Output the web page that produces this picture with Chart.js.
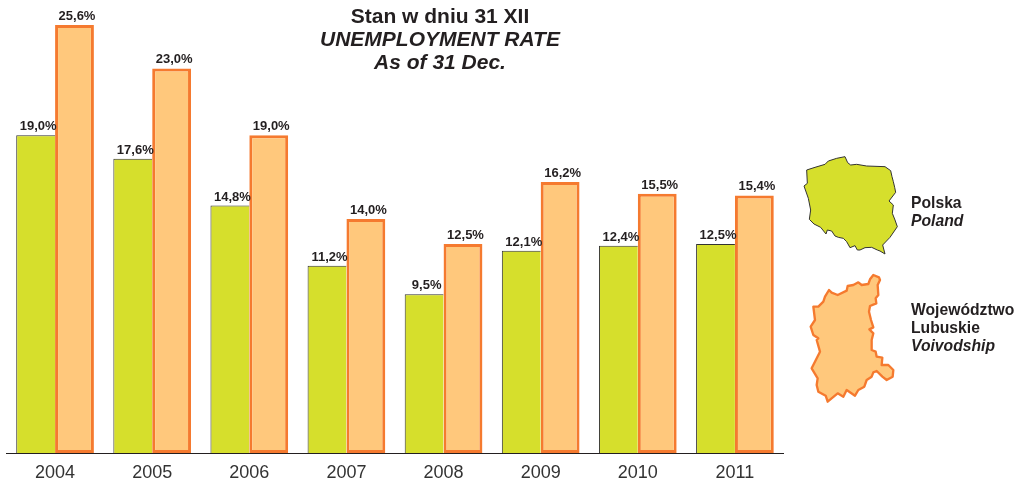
<!DOCTYPE html>
<html>
<head>
<meta charset="utf-8">
<script src="https://cdn.jsdelivr.net/npm/chart.js@4"></script>
<style>
    html, body { margin: 0; padding: 0; background: #fff; overflow: hidden; }
    body { width: 1018px; height: 480px; position: relative; font-family: "Liberation Sans", Arial, sans-serif; color: #231f20; }
    #chart-wrap { position: absolute; left: 0; top: 0; width: 1018px; height: 480px; }
    #title { position: absolute; left: 240px; top: 4px; width: 400px; text-align: center; font-weight: bold; font-size: 21px; line-height: 23px; }
    .legend-text { position: absolute; left: 911px; font-weight: bold; font-size: 15.7px; line-height: 18px; white-space: nowrap; }
    .map { position: absolute; }
    i { font-style: italic; }
</style>
</head>
<body>
<div id="chart-wrap"><canvas id="rate-chart" width="1018" height="480"></canvas></div>
<div id="title">Stan w dniu 31 XII<br><i>UNEMPLOYMENT RATE</i><br><i>As of 31 Dec.</i></div>

<svg class="map" style="left:800px;top:150px" width="100" height="105" viewBox="0 0 300 315">
    <path fill="#d6df2c" stroke="#333" stroke-width="3" stroke-linejoin="round"
        d="M20 60 L45 52 L75 43 L85 33 L110 25 L135 20 L143 38 L152 45 L170 43 L200 48 L255 50 L272 62 L276 80 L280 95 L284 112 L287 127 L267 153 L280 165 L277 190 L285 210 L292 230 L270 262 L248 285 L255 312 L240 303 L232 300 L215 292 L195 293 L180 300 L172 300 L165 287 L150 293 L140 275 L130 265 L115 262 L105 258 L95 243 L82 240 L78 252 L62 232 L42 222 L28 208 L32 180 L25 145 L12 108 L22 100 Z"/>
</svg>
<svg class="map" style="left:790px;top:265px" width="228" height="145" viewBox="0 0 684 435">
    <path fill="#ffc87c" stroke="#f57a2f" stroke-width="7" stroke-linejoin="round"
        d="M250 30 L267 37 L270 45 L263 60 L265 90 L257 100 L259 115 L240 123 L237 140 L243 165 L250 187 L238 193 L250 205 L245 225 L245 255 L257 260 L260 275 L277 278 L275 300 L295 300 L310 315 L308 335 L290 345 L277 335 L260 318 L250 322 L245 335 L230 345 L223 365 L205 375 L195 392 L170 375 L160 395 L143 385 L113 410 L107 392 L85 380 L80 360 L83 340 L65 310 L90 260 L80 225 L85 220 L70 210 L62 185 L75 165 L70 125 L85 125 L100 110 L105 95 L117 75 L125 83 L143 90 L170 77 L173 63 L190 60 L205 52 L215 60 L235 57 L240 43 Z"/>
</svg>
<div class="legend-text" style="top:194px">Polska<br><i>Poland</i></div>
<div class="legend-text" style="top:301px">Województwo<br>Lubuskie<br><i>Voivodship</i></div>

<script>
const years = ['2004', '2005', '2006', '2007', '2008', '2009', '2010', '2011'];
const polandRate = [19.0, 17.6, 14.8, 11.2, 9.5, 12.1, 12.4, 12.5];
const lubuskieRate = [25.6, 23.0, 19.0, 14.0, 12.5, 16.2, 15.5, 15.4];

// Percent labels above the bars, with decimal comma
const barLabels = {
    id: 'barLabels',
    afterDatasetsDraw(chart) {
        const { ctx } = chart;
        ctx.save();
        ctx.font = 'bold 13px "Liberation Sans", Arial, sans-serif';
        ctx.fillStyle = '#231f20';
        ctx.textAlign = 'center';
        ctx.textBaseline = 'alphabetic';
        chart.data.datasets.forEach((dataset, i) => {
            chart.getDatasetMeta(i).data.forEach((bar, j) => {
                const text = dataset.data[j].toFixed(1).replace('.', ',') + '%';
                ctx.fillText(text, bar.x + 2.5, bar.y - 5);
            });
        });
        ctx.restore();
    }
};

new Chart(document.getElementById('rate-chart'), {
    type: 'bar',
    data: {
        labels: years,
        datasets: [
            {
                label: 'Polska',
                data: polandRate,
                backgroundColor: '#d6df2c',
                borderColor: '#333',
                borderWidth: { top: 1, left: 1, right: 0, bottom: 0 },
                borderSkipped: false
            },
            {
                label: 'Województwo Lubuskie',
                data: lubuskieRate,
                backgroundColor: '#ffc87c',
                borderColor: '#f57a2f',
                borderWidth: 3,
                borderSkipped: false
            }
        ]
    },
    options: {
        responsive: false,
        animation: false,
        layout: { padding: { left: 6.5, right: 234.5, top: 0, bottom: 0 } },
        plugins: { legend: { display: false }, title: { display: false }, tooltip: { enabled: false } },
        datasets: { bar: { categoryPercentage: 0.8, barPercentage: 1 } },
        scales: {
            x: {
                grid: { display: false },
                border: { display: true, color: '#231f20', width: 1 },
                afterFit: (scale) => { scale.height = 27; },
                ticks: {
                    padding: 1,
                    maxRotation: 0,
                    color: '#333',
                    font: { family: '"Liberation Sans", Arial, sans-serif', size: 18 }
                }
            },
            y: { display: false, min: 0, max: 27.09 }
        }
    },
    plugins: [barLabels]
});
</script>
</body>
</html>
